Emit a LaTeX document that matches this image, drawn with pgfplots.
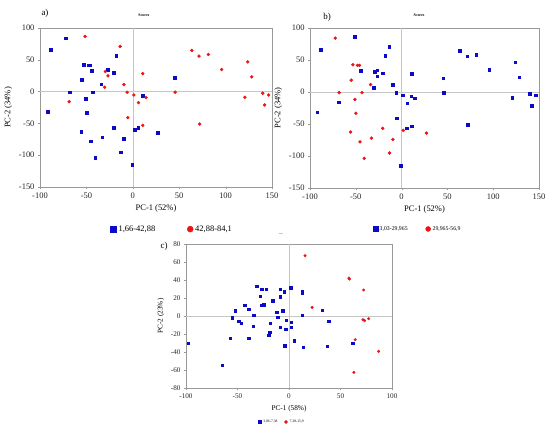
\documentclass[border=0pt]{standalone}
\usepackage{fontspec}
\setmainfont{Liberation Serif}
\usepackage{pgfplots}
\pgfplotsset{compat=1.18}
\usepackage{pgfplotstable}

% panel a) / b): same score points, coloured by two different variables
\pgfplotstableread{
x y
-88.6 65.8
-72.5 84.2
-53.2 42.6
-48.2 41.6
-46.0 41.6
-44.6 33.2
-55.0 18.4
-68.2 -1.0
-43.2 -1.0
-51.0 -11.6
-50.0 -33.2
-92.0 -31.6
-55.7 -62.6
-45.4 -78.0
-40.7 -103.7
-32.9 -72.0
-20.7 -56.8
-9.6 -74.2
-13.2 -95.3
-0.7 -114.7
1.8 -60.0
5.7 -56.8
27.1 -64.2
10.4 -6.8
45.4 21.6
-33.9 11.6
-26.8 34.2
-20.4 29.5
-17.9 56.8
}\ablue

\pgfplotstableread{
x y
-51.4 86.8
-13.6 71.0
-29.6 31.6
-26.8 24.7
-30.4 6.8
-9.6 11.0
-6.1 -1.0
-68.6 -15.8
1.1 -5.3
14.3 -9.5
6.1 -17.4
-5.4 -41.0
10.7 28.4
10.7 -53.2
45.7 -1.0
63.6 64.7
71.4 55.8
81.4 58.4
95.7 34.7
72.1 -51.0
123.9 46.8
128.2 23.2
120.7 -8.9
140.0 -2.6
146.4 -5.3
142.1 -21.0
}\ared

\pgfplotstableread{
x y
-51.4 86.8
-13.6 71.0
-29.6 31.6
-26.8 24.7
-30.4 6.8
-9.6 11.0
-6.1 -1.0
-68.6 -15.8
1.1 -5.3
14.3 -9.5
6.1 -17.4
-5.4 -41.0
10.7 28.4
10.7 -53.2
45.7 -1.0
63.6 64.7
71.4 55.8
81.4 58.4
95.7 34.7
72.1 -51.0
123.9 46.8
128.2 23.2
120.7 -8.9
140.0 -2.6
146.4 -5.3
142.1 -21.0
-88.6 65.8
-44.6 33.2
-92.0 -31.6
-0.7 -114.7
5.7 -56.8
10.4 -6.8
45.4 21.6
-26.8 34.2
-20.4 29.5
-17.9 56.8
}\bblue

\pgfplotstableread{
x y
-72.5 84.2
-53.2 42.6
-48.2 41.6
-46.0 41.6
-55.0 18.4
-68.2 -1.0
-43.2 -1.0
-51.0 -11.6
-50.0 -33.2
-55.7 -62.6
-45.4 -78.0
-40.7 -103.7
-32.9 -72.0
-20.7 -56.8
-9.6 -74.2
-13.2 -95.3
1.8 -60.0
27.1 -64.2
-33.9 11.6
}\bred

\pgfplotstableread{
x y
-97.7 -30.0
-64.6 -54.4
-57.1 -24.4
-55.2 -1.9
-52.3 5.9
-48.7 -5.6
-46.4 -7.8
-43.2 12.2
-39.0 7.4
-39.0 -24.4
-34.4 1.1
-34.7 -11.5
-31.2 33.3
-27.9 22.2
-26.6 29.6
-26.6 11.9
-24.7 12.6
-22.1 29.6
-18.5 -7.8
-18.8 -18.1
-19.8 -21.5
-15.9 17.0
-12.0 4.4
-11.0 -1.1
-8.8 30.0
-8.4 21.5
-8.8 -12.2
-6.2 5.9
-4.9 27.0
-4.2 -33.0
-2.6 -4.8
-3.2 -14.4
1.6 31.5
2.3 -7.0
2.3 -12.2
5.2 -27.4
13.0 27.0
13.0 25.6
13.0 1.1
13.6 -34.4
32.5 6.7
38.6 -5.6
37.3 -33.7
61.7 -30.0
}\cblue

\pgfplotstableread{
x y
15.6 67.0
22.4 9.6
58.1 42.2
58.8 41.1
72.4 28.9
71.8 -4.1
73.4 -5.2
77.3 -3.0
64.3 -26.3
87.0 -39.3
63.0 -62.6
}\cred

\definecolor{ptblue}{RGB}{10,10,200}
\definecolor{ptred}{RGB}{235,20,20}

\pgfplotsset{
  pca/.style={
    scale only axis,
    axis line style={gray!80},
    tick style={gray!80},
    tick align=outside,
    major tick length=2bp,
    xtick pos=bottom, ytick pos=left,
    /pgf/number format/assume math mode=true,
    tick label style={font=\fontsize{8.5}{9}\selectfont, text=black!85},
    label style={font=\fontsize{8.5}{9}\selectfont},
    title style={font=\fontsize{4}{4}\selectfont\bfseries},
    legend style={draw=none, fill=none, legend columns=2,
      font=\fontsize{8.5}{9}\selectfont,
      /tikz/every even column/.append style={column sep=30bp}},
    legend image post style={mark size=3bp},
  },
  bl/.style={only marks, mark=square*, mark size=1.3bp, color=ptblue},
  rd/.style={only marks, mark=*, mark size=1.5bp, color=ptred},
}

\begin{document}
\begin{tikzpicture}[x=1bp, y=1bp]

% a)
\begin{axis}[pca, at={(40bp,245bp)}, anchor=south west,
    width=232bp, height=159bp,
    xmin=-100, xmax=150, ymin=-150, ymax=100,
    xtick={-100,-50,0,50,100,150}, ytick={-150,-100,-50,0,50,100},
    xlabel={PC-1 (52\%)}, ylabel={PC-2 (34\%)},
    title={Scores}, title style={at={(0.448,1.01)}, anchor=south},
    legend style={at={(0.57,-0.265)}, anchor=center}]
\draw[gray!45] (axis cs:0,-150) -- (axis cs:0,100);
\draw[gray!45] (axis cs:-100,0) -- (axis cs:150,0);
\addplot[bl] table {\ablue};
\addlegendentry{1,66-42,88}
\addplot[rd] table {\ared};
\addlegendentry{42,88-84,1}
\end{axis}
\node[font=\fontsize{9}{9}\selectfont] at (45,419) {a)};

% b)
\begin{axis}[pca, at={(310bp,244bp)}, anchor=south west,
    width=229bp, height=160bp,
    xmin=-100, xmax=150, ymin=-150, ymax=100,
    xtick={-100,-50,0,50,100,150}, ytick={-150,-100,-50,0,50,100},
    xlabel={PC-1 (52\%)}, ylabel={PC-2 (34\%)},
    title={Scores}, title style={at={(0.476,1.01)}, anchor=south},
    legend style={at={(0.47,-0.256)}, anchor=center,
      font=\fontsize{5.8}{6}\selectfont,
      /tikz/every even column/.append style={column sep=16bp}},
    legend image post style={mark size=2.5bp}]
\draw[gray!45] (axis cs:0,-150) -- (axis cs:0,100);
\draw[gray!45] (axis cs:-100,0) -- (axis cs:150,0);
\addplot[bl] table {\bblue};
\addlegendentry{3,03-29,965}
\addplot[rd] table {\bred};
\addlegendentry{29,965-56,9}
\end{axis}
\node[font=\fontsize{9}{9}\selectfont] at (327,415) {b)};

% c)
\begin{axis}[pca, at={(186bp,44bp)}, anchor=south west,
    width=206bp, height=144bp,
    xmin=-100, xmax=100, ymin=-80, ymax=80,
    xtick={-100,-50,0,50,100}, ytick={-80,-60,...,80},
    tick label style={font=\fontsize{7.2}{8}\selectfont},
    label style={font=\fontsize{7.3}{8}\selectfont},
    xlabel={PC-1 (58\%)}, ylabel={PC-2 (23\%)},
    title={Scores}, title style={at={(0.461,1.0)}, anchor=south,
      font=\fontsize{1.5}{1.5}\selectfont},
    legend style={at={(0.466,-0.236)}, anchor=center,
      font=\fontsize{3.7}{4}\selectfont,
      /tikz/every even column/.append style={column sep=5bp}},
    legend image post style={mark size=1.6bp}]
\draw[gray!45] (axis cs:0,-80) -- (axis cs:0,80);
\draw[gray!45] (axis cs:-100,0) -- (axis cs:100,0);
\addplot[bl, mark size=1.2bp] table {\cblue};
\addlegendentry{3,06-7,38}
\addplot[rd, mark size=1.3bp] table {\cred};
\addlegendentry{7,38-15,9}
\end{axis}
\node[font=\fontsize{9}{9}\selectfont] at (164,186) {c)};

\pgfresetboundingbox
\useasboundingbox (0,0) rectangle (550,432);
\end{tikzpicture}
\end{document}
